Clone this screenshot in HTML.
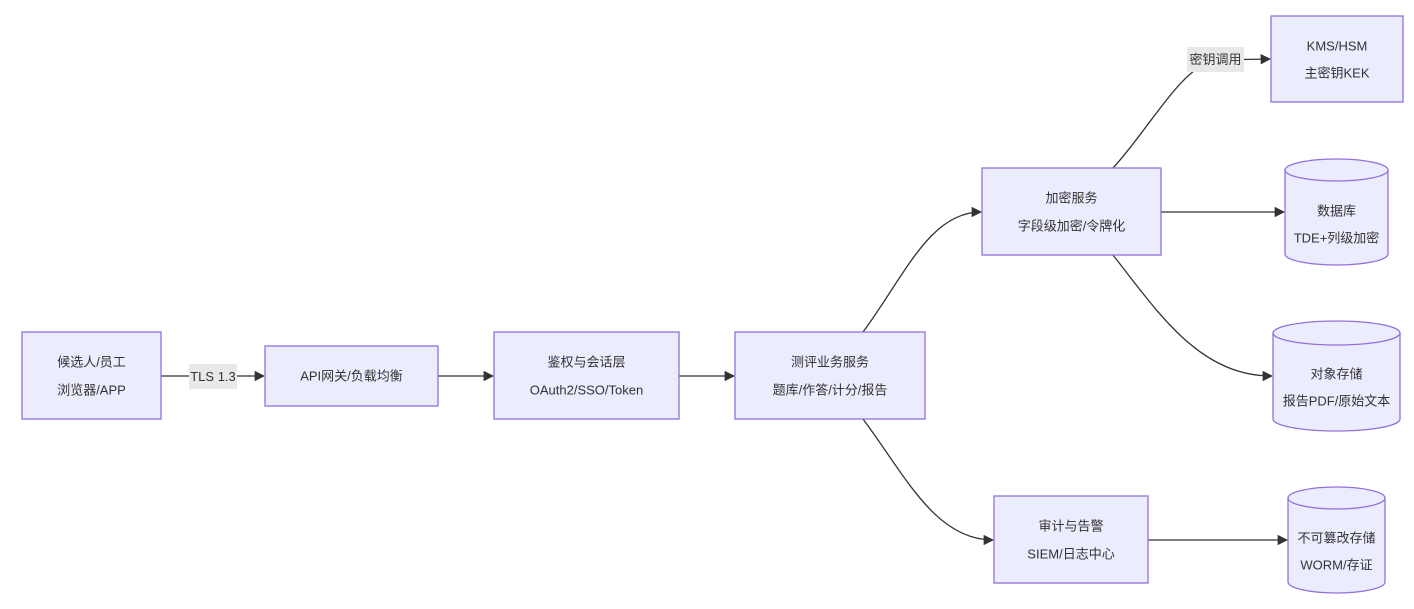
<!DOCTYPE html>
<html><head><meta charset="utf-8"><style>
body{margin:0;background:#fff;}
text{font-family:"Liberation Sans","Noto Sans CJK SC",sans-serif;font-size:13px;fill:#333;text-anchor:middle;dominant-baseline:central;}
.n{fill:#ECECFF;stroke:#9370DB;stroke-width:1.3;}
.e{fill:none;stroke:#333;stroke-width:1.3;}
</style></head><body>
<svg width="1414" height="604" xmlns="http://www.w3.org/2000/svg">
<defs><marker id="a" viewBox="0 0 10 10" refX="9" refY="5" markerWidth="8" markerHeight="8" orient="auto"><path d="M0,0L10,5L0,10z" fill="#333"/></marker></defs>
<path class="e" d="M161,376L264,376" marker-end="url(#a)"/>
<path class="e" d="M438,376L493,376" marker-end="url(#a)"/>
<path class="e" d="M679,376L734,376" marker-end="url(#a)"/>
<path class="e" d="M863,332C905,275 930,212 981,212" marker-end="url(#a)"/>
<path class="e" d="M863,419C905,475 935,540 993,540" marker-end="url(#a)"/>
<path class="e" d="M1113,168C1150,128 1180,68 1215,60L1270,59" marker-end="url(#a)"/>
<path class="e" d="M1161,212L1284,212" marker-end="url(#a)"/>
<path class="e" d="M1113,255C1160,315 1200,376 1272,376" marker-end="url(#a)"/>
<path class="e" d="M1148,540L1287,540" marker-end="url(#a)"/>
<rect x="189" y="364" width="48" height="25" fill="#E8E8E8"/><text x="213" y="376.5">TLS 1.3</text>
<rect x="1187" y="47" width="57" height="25" fill="#E8E8E8"/><text x="1215.5" y="59.5">密钥调用</text>
<rect class="n" x="22" y="332" width="139" height="87"/><text x="91.5" y="362">候选人/员工</text><text x="91.5" y="390">浏览器/APP</text>
<rect class="n" x="265" y="346" width="173" height="60"/><text x="351.5" y="376">API网关/负载均衡</text>
<rect class="n" x="494" y="332" width="185" height="87"/><text x="586.5" y="362">鉴权与会话层</text><text x="586.5" y="390">OAuth2/SSO/Token</text>
<rect class="n" x="735" y="332" width="190" height="87"/><text x="830" y="362">测评业务服务</text><text x="830" y="390">题库/作答/计分/报告</text>
<rect class="n" x="982" y="168" width="179" height="87"/><text x="1071.5" y="198">加密服务</text><text x="1071.5" y="226">字段级加密/令牌化</text>
<rect class="n" x="994" y="496" width="154" height="87"/><text x="1071" y="526">审计与告警</text><text x="1071" y="554">SIEM/日志中心</text>
<rect class="n" x="1271" y="16" width="132" height="86"/><text x="1337" y="46">KMS/HSM</text><text x="1337" y="73">主密钥KEK</text>
<path class="n" d="M1285,170A51.5,11 0 0 1 1388,170L1388,254A51.5,11 0 0 1 1285,254Z"/><path class="e" style="stroke:#9370DB" d="M1285,170A51.5,11 0 0 0 1388,170"/>
<text x="1336.5" y="211">数据库</text><text x="1336.5" y="238">TDE+列级加密</text>
<path class="n" d="M1273,333A63.5,12 0 0 1 1400,333L1400,419A63.5,12 0 0 1 1273,419Z"/><path class="e" style="stroke:#9370DB" d="M1273,333A63.5,12 0 0 0 1400,333"/>
<text x="1336.5" y="374">对象存储</text><text x="1336.5" y="401">报告PDF/原始文本</text>
<path class="n" d="M1288,498A48.5,11 0 0 1 1385,498L1385,582A48.5,11 0 0 1 1288,582Z"/><path class="e" style="stroke:#9370DB" d="M1288,498A48.5,11 0 0 0 1385,498"/>
<text x="1336.5" y="538">不可篡改存储</text><text x="1336.5" y="565">WORM/存证</text>
</svg>
</body></html>
